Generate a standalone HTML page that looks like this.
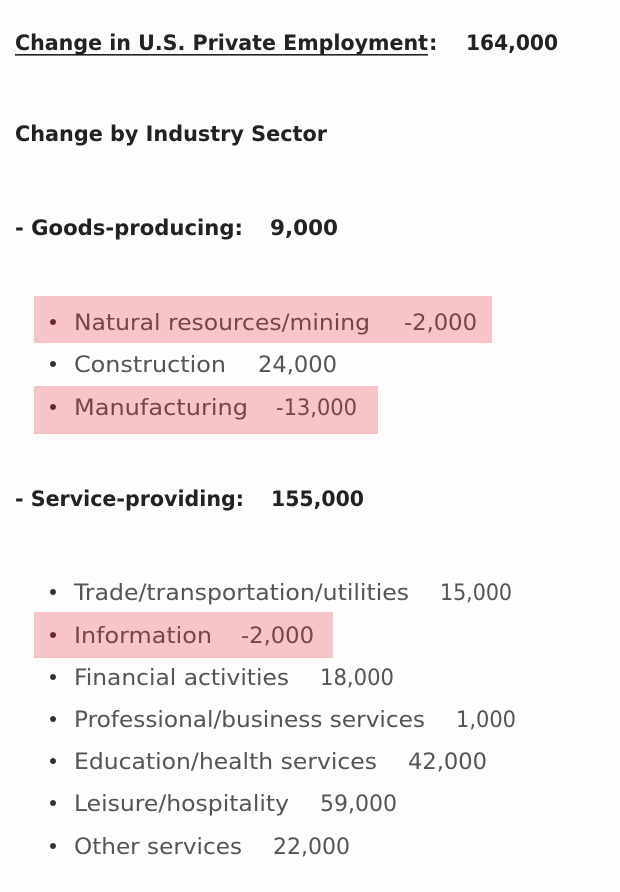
<!DOCTYPE html>
<html><head><meta charset="utf-8"><style>
html,body{margin:0;padding:0;background:#fff;}
svg{display:block;}
.h{font-family:"DejaVu Sans","Liberation Sans",sans-serif;font-weight:bold;font-size:21px;fill:#222;}
.i{font-family:"DejaVu Sans","Liberation Sans",sans-serif;font-size:22.5px;fill:#555;}
.r{fill:#7a4444;}
</style></head><body>
<svg width="620" height="892" xmlns="http://www.w3.org/2000/svg">
<rect width="620" height="892" fill="#fdfdfd"/>
<rect x="34" y="296" width="458" height="47" fill="#f7c5c7"/>
<rect x="34" y="386" width="344" height="48" fill="#f7c5c7"/>
<rect x="34" y="612" width="299" height="46" fill="#f7c5c7"/>
<g class="h">
<text x="15" y="50" textLength="413" lengthAdjust="spacingAndGlyphs">Change in U.S. Private Employment</text>
<text x="429" y="50">:</text>
<text x="466" y="50" textLength="92" lengthAdjust="spacingAndGlyphs">164,000</text>
<text x="15" y="141" textLength="312" lengthAdjust="spacingAndGlyphs">Change by Industry Sector</text>
<text x="15" y="235" textLength="228" lengthAdjust="spacingAndGlyphs">- Goods-producing:</text>
<text x="270" y="235" textLength="68" lengthAdjust="spacingAndGlyphs">9,000</text>
<text x="15" y="506" textLength="229" lengthAdjust="spacingAndGlyphs">- Service-providing:</text>
<text x="271" y="506" textLength="93" lengthAdjust="spacingAndGlyphs">155,000</text>
</g>
<rect x="15" y="54" width="413" height="1.6" fill="#222"/>
<g class="i">
<text x="74" y="330" class="r" textLength="296" lengthAdjust="spacingAndGlyphs">Natural resources/mining</text>
<text x="404" y="330" class="r" textLength="73" lengthAdjust="spacingAndGlyphs">-2,000</text>
<text x="74" y="372" textLength="152" lengthAdjust="spacingAndGlyphs">Construction</text>
<text x="258" y="372" textLength="79" lengthAdjust="spacingAndGlyphs">24,000</text>
<text x="74" y="415" class="r" textLength="174" lengthAdjust="spacingAndGlyphs">Manufacturing</text>
<text x="276" y="415" class="r" textLength="81" lengthAdjust="spacingAndGlyphs">-13,000</text>
<text x="74" y="600" textLength="335" lengthAdjust="spacingAndGlyphs">Trade/transportation/utilities</text>
<text x="440" y="600" textLength="72" lengthAdjust="spacingAndGlyphs">15,000</text>
<text x="74" y="643" class="r" textLength="138" lengthAdjust="spacingAndGlyphs">Information</text>
<text x="241" y="643" class="r" textLength="73" lengthAdjust="spacingAndGlyphs">-2,000</text>
<text x="74" y="685" textLength="215" lengthAdjust="spacingAndGlyphs">Financial activities</text>
<text x="320" y="685" textLength="74" lengthAdjust="spacingAndGlyphs">18,000</text>
<text x="74" y="727" textLength="351" lengthAdjust="spacingAndGlyphs">Professional/business services</text>
<text x="456" y="727" textLength="60" lengthAdjust="spacingAndGlyphs">1,000</text>
<text x="74" y="769" textLength="303" lengthAdjust="spacingAndGlyphs">Education/health services</text>
<text x="408" y="769" textLength="79" lengthAdjust="spacingAndGlyphs">42,000</text>
<text x="74" y="811" textLength="215" lengthAdjust="spacingAndGlyphs">Leisure/hospitality</text>
<text x="320" y="811" textLength="77" lengthAdjust="spacingAndGlyphs">59,000</text>
<text x="74" y="854" textLength="168" lengthAdjust="spacingAndGlyphs">Other services</text>
<text x="273" y="854" textLength="77" lengthAdjust="spacingAndGlyphs">22,000</text>
</g>
<g fill="#333">
<circle cx="53" cy="322" r="3" fill="#6a2a2a"/>
<circle cx="53" cy="364" r="3"/>
<circle cx="53" cy="407" r="3" fill="#6a2a2a"/>
<circle cx="53" cy="592" r="3"/>
<circle cx="53" cy="635" r="3" fill="#6a2a2a"/>
<circle cx="53" cy="677" r="3"/>
<circle cx="53" cy="719" r="3"/>
<circle cx="53" cy="761" r="3"/>
<circle cx="53" cy="803" r="3"/>
<circle cx="53" cy="846" r="3"/>
</g>
</svg>
</body></html>
